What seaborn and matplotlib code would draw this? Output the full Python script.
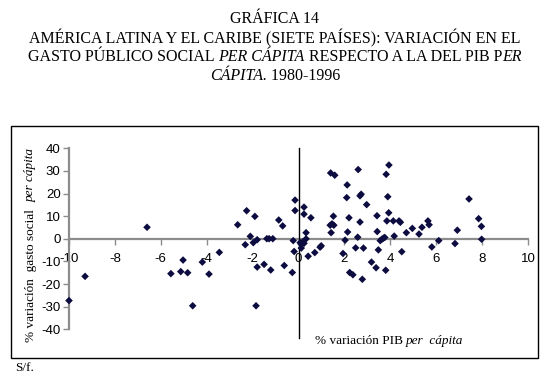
import matplotlib
matplotlib.use("Agg")
import matplotlib.pyplot as plt
import pandas as pd
import seaborn as sns
from matplotlib.patches import Rectangle

# % variation of GDP per capita (x) and social spending per capita (y)
gdp_var = [-10.0, -9.3, -6.6, -5.56, -5.13, -5.03, -4.83, -4.61, -4.19, -3.9,
           -3.45, -2.65, -2.26, -2.32, -2.1, -1.97, -1.9, -1.8, -1.8, -1.85,
           -1.5, -1.38, -1.28, -1.12, -1.21, -0.86, -0.69, -0.62, -0.27, -0.23,
           -0.19, -0.15, -0.15, 0.07, 0.18, 0.12, 0.24, 0.12, 0.24, 0.24,
           0.33, 0.33, 0.42, 0.54, 0.71, 0.94, 0.99, 1.38, 1.46, 1.54,
           1.42, 1.52, 1.4, 1.58, 1.94, 2.03, 2.12, 2.1, 2.14, 2.2,
           2.23, 2.37, 2.49, 2.6, 2.58, 2.68, 2.73, 2.68, 2.83, 2.78,
           2.97, 3.18, 3.38, 3.42, 3.43, 3.48, 3.56, 3.63, 3.7, 3.76,
           3.82, 3.94, 3.89, 3.93, 3.85, 3.8, 4.13, 4.38, 4.44, 4.17,
           4.5, 4.7, 4.96, 5.25, 5.38, 5.64, 5.69, 5.81, 6.11, 6.82,
           6.92, 7.43, 7.85, 7.97, 7.98]
spend_var = [-27.3, -16.6, 5.1, -15.4, -14.5, -9.4, -15.0, -29.6, -10.3, -15.6,
             -6.0, 6.2, 12.4, -2.6, 1.1, -1.7, 9.9, -0.4, -12.5, -29.6,
             -11.3, 0.05, 0.05, 0.05, -13.8, 8.3, 5.7, -11.8, -14.9, -0.8,
             -5.6, 17.1, 12.5, -1.7, -1.4, -2.4, -2.0, -4.1, 14.0, 10.9,
             2.7, 0.0, -7.7, 9.3, -6.1, -3.7, -3.1, 6.0, 6.6, 6.0,
             2.7, 10.0, 29.1, 28.1, -6.5, -0.6, 23.8, 18.2, 3.0, 9.3,
             -14.9, -15.9, -4.0, 30.6, 0.7, 19.0, 19.7, 7.4, -4.1, -17.9,
             15.1, -10.3, -12.8, 10.2, 3.2, -4.9, -0.8, -0.2, 0.3, 0.6,
             28.5, 32.6, 18.6, 11.5, 7.9, -13.9, 7.9, 7.9, 7.3, 1.2,
             -5.7, 2.7, 4.6, 2.1, 5.1, 7.9, 6.2, -3.6, -0.8, -2.1,
             3.8, 17.6, 8.9, 5.5, -0.2]

x_ticks = [-10, -8, -6, -4, -2, 0, 2, 4, 6, 8, 10]
y_ticks = [-40, -30, -20, -10, 0, 10, 20, 30, 40]
vline_range = [-44, 40]

title_lines = [
    [("GRÁFICA 14", "normal")],
    [("AMÉRICA LATINA Y EL CARIBE (SIETE PAÍSES): VARIACIÓN EN EL", "normal")],
    [("GASTO PÚBLICO SOCIAL ", "normal"), ("PER CÁPITA", "italic"),
     (" RESPECTO A LA DEL PIB P", "normal"), ("ER", "italic")],
    [("CÁPITA.", "italic"), (" 1980-1996", "normal")],
]
xlabel_parts = [("% variación PIB ", "normal"), ("per  cápita", "italic")]
ylabel_parts = [("% variación  gasto social  ", "normal"), ("per cápita", "italic")]
source_note = "S/f."

W, H = 550, 380
SERIF = "Liberation Serif"

plt.rcParams["font.family"] = ["Liberation Sans", "DejaVu Sans"]
plt.rcParams["axes.unicode_minus"] = False

fig = plt.figure(figsize=(W / 100, H / 100), dpi=100)
renderer = fig.canvas.get_renderer()


def put_mixed(parts, cx, cy, size, rotation=0):
    # draw a line made of normal/italic pieces, centred on (cx, cy) in pixels
    texts = []
    for txt, style in parts:
        t = fig.text(0, 0, txt, family=SERIF, style=style, fontsize=size,
                     rotation=rotation, va="center", ha="left" if rotation == 0 else "center")
        texts.append(t)
    if rotation == 0:
        sizes = [t.get_window_extent(renderer).width for t in texts]
    else:
        sizes = [t.get_window_extent(renderer).height for t in texts]
    pos = -sum(sizes) / 2
    for t, s in zip(texts, sizes):
        if rotation == 0:
            t.set_position(((cx + pos) / W, 1 - cy / H))
        else:
            t.set_va("bottom")
            t.set_position((cx / W, 1 - (cy - pos) / H))
        pos += s


for i, line in enumerate(title_lines):
    put_mixed(line, W / 2, 19 + i * 19, 11.5)

ax = fig.add_axes([69 / W, 1 - 329.3 / H, 459 / W, 181 / H])
df = pd.DataFrame({"pib": gdp_var, "gasto": spend_var})
sns.scatterplot(data=df, x="pib", y="gasto", marker="D", s=15, color="#0c0c40",
                edgecolor="none", ax=ax, clip_on=False, zorder=5)
ax.plot([0, 0], vline_range, color="black", lw=1, clip_on=False, zorder=3)

ax.set_xlim(x_ticks[0], x_ticks[-1])
ax.set_ylim(y_ticks[0], y_ticks[-1])
ax.set_xticks(x_ticks)
ax.set_yticks(y_ticks)
ax.set_xlabel("")
ax.set_ylabel("")
ax.patch.set_alpha(0)
for s in ["top", "right"]:
    ax.spines[s].set_visible(False)
ax.spines["bottom"].set_position(("data", 0))
for s in ["bottom", "left"]:
    ax.spines[s].set_color("#8c8c8c")
    ax.spines[s].set_linewidth(1.6)
ax.tick_params(axis="both", colors="#8c8c8c", labelcolor="black", length=4,
               width=1, labelsize=9.5)
ax.tick_params(axis="x", pad=6)
ax.tick_params(axis="y", pad=2)

put_mixed(xlabel_parts, 389, 341, 9.5)
put_mixed(ylabel_parts, 31, 245, 9.5, rotation=90)
fig.text(15 / W, 1 - 368 / H, source_note, family=SERIF, fontsize=9.5, va="center")

fig.patches.append(Rectangle((11 / W, 1 - 358 / H), 527 / W, 232 / H,
                             transform=fig.transFigure, fill=False, lw=1,
                             edgecolor="black"))

fig.savefig("out.png", dpi=100)
